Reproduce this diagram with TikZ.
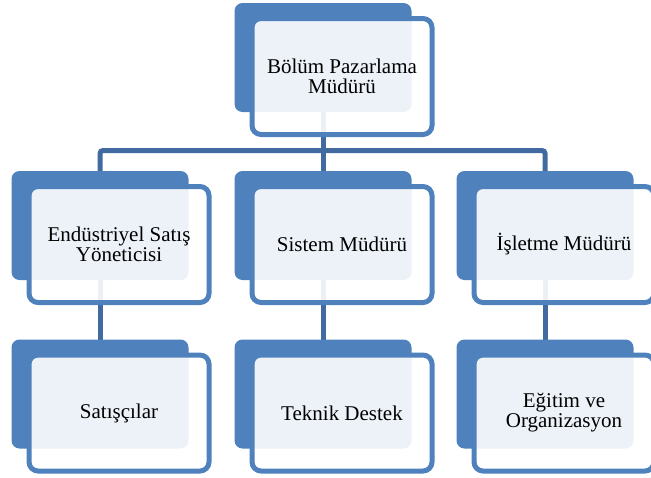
\documentclass[tikz,border=0pt]{standalone}
\usepackage{fontspec}
\setmainfont{Liberation Serif}
\usetikzlibrary{backgrounds}
\definecolor{boxblue}{RGB}{79,129,189}
\definecolor{linkblue}{RGB}{65,106,160}
\begin{document}
\begin{tikzpicture}[x=1pt,y=-1pt,
  backbox/.style={rectangle, rounded corners=8pt, fill=boxblue, draw=none,
    minimum width=177pt, minimum height=109pt, inner sep=0pt, outer sep=0pt},
  frontbox/.style={rectangle, rounded corners=9pt, draw=boxblue, line width=5pt,
    fill=white, fill opacity=0.9, text opacity=1, text=black,
    minimum width=180pt, minimum height=116pt, inner sep=0pt, outer sep=0pt,
    align=center, font=\fontsize{21}{20}\selectfont},
  link/.style={draw=linkblue, line width=5pt}]
\useasboundingbox (0,0) rectangle (651,477);
\clip (0,0) rectangle (651,477);

% top level
\node[backbox] (topb) at (323,57.5) {};
\node[frontbox] (topf) at (342,76.5) {Bölüm Pazarlama\\Müdürü};

% second level
\node[backbox] (l1b) at (100,225.5) {};
\node[frontbox] (l1f) at (119,244.5) {Endüstriyel Satış\\Yöneticisi};
\node[backbox] (c1b) at (323,225.5) {};
\node[frontbox] (c1f) at (342,244.5) {Sistem Müdürü};
\node[backbox] (r1b) at (545,225.5) {};
\node[frontbox] (r1f) at (564,244.5) {İşletme Müdürü};

% third level
\node[backbox] (l2b) at (100,394) {};
\node[frontbox] (l2f) at (119,413) {Satışçılar};
\node[backbox] (c2b) at (323,394) {};
\node[frontbox] (c2f) at (342,413) {Teknik Destek};
\node[backbox] (r2b) at (545,394) {};
\node[frontbox] (r2f) at (564,413) {Eğitim ve\\Organizasyon};

% connectors behind the boxes
\coordinate (bus) at (0,150.5);
\begin{scope}[on background layer]
  \draw[link] (topb.center) -- (topb.center |- bus);
  \draw[link, rounded corners=3pt] (l1b.north) -- (l1b.center |- bus)
       -- (r1b.center |- bus) -- (r1b.north);
  \draw[link] (topb.center |- bus) -- (c1b.north);
  \draw[link] (l1b.center) -- (l2b.north);
  \draw[link] (c1b.center) -- (c2b.north);
  \draw[link] (r1b.center) -- (r2b.north);
\end{scope}
\end{tikzpicture}
\end{document}
